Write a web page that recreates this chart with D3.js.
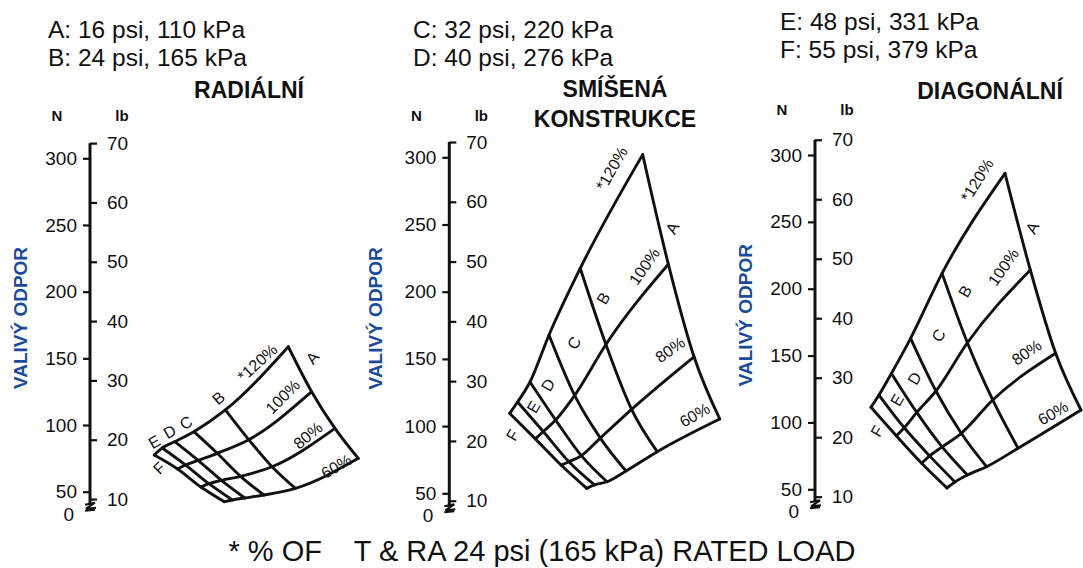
<!DOCTYPE html>
<html>
<head>
<meta charset="utf-8">
<script src="https://cdn.jsdelivr.net/npm/d3@7"></script>
<style>
  body { margin: 0; background: #fff; }
  svg { display: block; }
  text { font-family: "Liberation Sans", Arial, sans-serif; fill: #111; }
</style>
</head>
<body>
<svg id="chart" width="1083" height="568"></svg>
<script>
// Inflation pressure groups (carpet lines A–F)
const pressureLabels = ["A", "B", "C", "D", "E", "F"];
const pressurePsi = [16, 24, 32, 40, 48, 55];
const pressureKPa = [110, 165, 220, 276, 331, 379];

// Load as % of the T & RA rated load (carpet lines across)
const loadPct = [120, 100, 80, 60];

// Rolling resistance in newtons; rows A..F, columns 120/100/80/60 %
const radialN = [
  [158.7, 125.0, 97.5, 75.0],
  [111.3, 89.0, 68.7, 52.5],
  [95.0, 78.8, 61.5, 47.5],
  [87.5, 73.5, 58.5, 45.3],
  [82.8, 70.0, 56.0, 43.8],
  [77.5, 67.0, 53.5, 42.5]
];
const mixedN = [
  [302.0, 220.4, 151.6, 105.3],
  [217.4, 160.7, 112.5, 81.0],
  [167.8, 122.8, 91.1, 66.6],
  [132.8, 104.5, 78.0, 58.6],
  [117.9, 96.0, 73.5, 56.2],
  [109.5, 90.5, 71.0, 53.7]
];
const biasN = [
  [286.3, 214.0, 151.7, 109.3],
  [211.5, 159.6, 116.8, 80.7],
  [162.9, 123.5, 91.9, 66.9],
  [136.7, 107.5, 81.7, 60.7],
  [120.5, 96.0, 75.0, 55.5],
  [111.3, 90.0, 69.5, 51.0]
];

const panelTitles = [["RADIÁLNÍ"], ["SMÍŠENÁ", "KONSTRUKCE"], ["DIAGONÁLNÍ"]];
const nTicks = [50, 100, 150, 200, 250, 300];
const lbTicks = [10, 20, 30, 40, 50, 60, 70];
const yTitle = "VALIVÝ ODPOR";
const footnote = "* % OF    T & RA 24 psi (165 kPa) RATED LOAD";
const N_PER_LB = 4.44822;

// ---- layout -------------------------------------------------------------
const svg = d3.select("#chart");

const panels = [
  { data: radialN, axisX: 90,    yTop: 158.3, yBot: 491.7, cx: 288.3, loadW: 70, pressW: 134,
    legendY: [38, 65.5], legendX: 48, titleY: [98], titleX: 249, unitY: 121, ytX: 27,
    labels: [
      { t: "A", p: 0, l: 0, dx: 24, dy: 11, r: -50 },
      { t: "*120%", p: 0, l: 0, dx: -31, dy: 16, r: -42 },
      { t: "100%", p: 0, l: 1, dx: -29, dy: 5, r: -45 },
      { t: "80%", p: 0, l: 2, dx: -27, dy: 7, r: -40 },
      { t: "60%", p: 0, l: 3, dx: -22, dy: 8, r: -30 },
      { t: "B", p: 1, l: 0, dx: -7, dy: -12, r: -40 },
      { t: "C", p: 2, l: 0, dx: -8, dy: -9, r: -30 },
      { t: "D", p: 3, l: 0, dx: -5, dy: -10, r: -30 },
      { t: "E", p: 4, l: 0, dx: -8, dy: -6, r: -30 },
      { t: "F", p: 5, l: 0, dx: 5, dy: 13, r: -45 }
    ] },
  { data: mixedN, axisX: 449.3, yTop: 157.3, yBot: 493.3, cx: 642.7, loadW: 77, pressW: 133,
    legendY: [38, 65.5], legendX: 413, titleY: [97, 127], titleX: 615, unitY: 121, ytX: 382,
    labels: [
      { t: "A", p: 0, l: 1, dx: 4, dy: -36, r: -62 },
      { t: "*120%", p: 0, l: 0, dx: -31, dy: 14, r: -60 },
      { t: "100%", p: 0, l: 1, dx: -24, dy: 2, r: -55 },
      { t: "80%", p: 0, l: 2, dx: -24, dy: -7, r: -35 },
      { t: "60%", p: 0, l: 3, dx: -25, dy: -4, r: -30 },
      { t: "B", p: 1, l: 0, dx: 23, dy: 30, r: -60 },
      { t: "C", p: 2, l: 0, dx: 25, dy: 8, r: -60 },
      { t: "D", p: 3, l: 0, dx: 18, dy: 3, r: -60 },
      { t: "E", p: 4, l: 0, dx: 16, dy: 5, r: -60 },
      { t: "F", p: 5, l: 0, dx: 3, dy: 22, r: -60 }
    ] },
  { data: biasN, axisX: 815, yTop: 155, yBot: 489.3, cx: 1005, loadW: 76, pressW: 134,
    legendY: [30, 57.5], legendX: 780, titleY: [99], titleX: 990, unitY: 115, ytX: 752,
    labels: [
      { t: "A", p: 0, l: 1, dx: 2, dy: -42, r: -62 },
      { t: "*120%", p: 0, l: 0, dx: -28, dy: 7, r: -58 },
      { t: "100%", p: 0, l: 1, dx: -27, dy: -3, r: -55 },
      { t: "80%", p: 0, l: 2, dx: -29, dy: -1, r: -35 },
      { t: "60%", p: 0, l: 3, dx: -28, dy: 3, r: -30 },
      { t: "B", p: 1, l: 0, dx: 23, dy: 18, r: -60 },
      { t: "C", p: 2, l: 0, dx: 28, dy: -3, r: -60 },
      { t: "D", p: 3, l: 0, dx: 23, dy: 5, r: -60 },
      { t: "E", p: 4, l: 0, dx: 18, dy: 5, r: -60 },
      { t: "F", p: 5, l: 0, dx: 6, dy: 24, r: -60 }
    ] }
];

const legendPairs = [[0, 1], [2, 3], [4, 5]];
const legendText = i => `${pressureLabels[i]}: ${pressurePsi[i]} psi, ${pressureKPa[i]} kPa`;

// smooth carpet lines without overshoot; points are fed left to right
const curve = d3.line().curve(d3.curveMonotoneX);
const byX = pts => pts.slice().sort((a, b) => a[0] - b[0]);

panels.forEach((P, pi) => {
  const g = svg.append("g");

  // value scale (N) and the matching pound-force scale
  const yN = d3.scaleLinear().domain([50, 300]).range([P.yBot, P.yTop]);
  const yLb = d3.scaleLinear().domain([0, 70]).range([yN(0), yN(70 * N_PER_LB)]);

  // carpet offsets: lighter load shifts a point right, higher pressure (as 1/p) shifts it left
  const xLoad = d3.scaleLinear().domain([120, 60]).range([0, P.loadW]);
  const xPress = d3.scaleLinear().domain([1 / pressureKPa[0], 1 / pressureKPa[5]]).range([0, -P.pressW]);
  const pt = (i, j) => [P.cx + xPress(1 / pressureKPa[i]) + xLoad(loadPct[j]), yN(P.data[i][j])];

  // legend of pressure groups
  legendPairs[pi].forEach((idx, k) => {
    g.append("text").attr("x", P.legendX).attr("y", P.legendY[k])
      .style("font-size", "24.5px").text(legendText(idx));
  });

  // panel title
  panelTitles[pi].forEach((t, k) => {
    g.append("text").attr("x", P.titleX).attr("y", P.titleY[k]).attr("text-anchor", "middle")
      .style("font-size", "23px").style("font-weight", "bold").text(t);
  });

  // unit headers
  g.append("text").attr("x", P.axisX - 33).attr("y", P.unitY).attr("text-anchor", "middle")
    .style("font-size", "15px").style("font-weight", "bold").text("N");
  g.append("text").attr("x", P.axisX + 32).attr("y", P.unitY).attr("text-anchor", "middle")
    .style("font-size", "15px").style("font-weight", "bold").text("lb");

  // y title
  g.append("text")
    .attr("transform", `translate(${P.ytX},${(P.yTop + P.yBot) / 2 - 7}) rotate(-90)`)
    .attr("text-anchor", "middle").style("font-size", "19px").style("font-weight", "bold")
    .style("fill", "#1b4c9a").text(yTitle);

  // dual axis: N ticks on the left, lb ticks on the right
  const axN = g.append("g").attr("transform", `translate(${P.axisX},0)`)
    .call(d3.axisLeft(yN).tickValues(nTicks).tickSize(7).tickPadding(6));
  const axLb = g.append("g").attr("transform", `translate(${P.axisX},0)`)
    .call(d3.axisRight(yLb).tickValues(lbTicks).tickSize(7).tickPadding(10));
  [axN, axLb].forEach(a => {
    a.select(".domain").remove();
    a.selectAll("line").attr("stroke", "#111").attr("stroke-width", 2.2);
    a.selectAll("text").style("font-size", "19px").style("font-family", '"Liberation Sans", Arial, sans-serif').attr("fill", "#111");
  });

  // axis spine with a break above zero
  const yBreak = yN(50) + 13;
  g.append("line").attr("x1", P.axisX).attr("x2", P.axisX)
    .attr("y1", yLb(70)).attr("y2", yBreak)
    .attr("stroke", "#111").attr("stroke-width", 3);
  g.append("path")
    .attr("d", `M${P.axisX - 5},${yBreak} L${P.axisX + 5},${yBreak - 2} L${P.axisX - 4},${yBreak + 4} L${P.axisX + 6},${yBreak + 3}
                M${P.axisX - 5},${yBreak + 6} L${P.axisX + 5},${yBreak + 5}`)
    .attr("fill", "none").attr("stroke", "#111").attr("stroke-width", 2);
  g.append("text").attr("x", P.axisX - 16).attr("y", yBreak + 16).attr("text-anchor", "end")
    .style("font-size", "19px").text("0");

  // carpet: constant-pressure lines and constant-load lines
  const carpet = g.append("g").attr("fill", "none").attr("stroke", "#111")
    .attr("stroke-width", 2.9).attr("stroke-linejoin", "round").attr("stroke-linecap", "round");
  pressureLabels.forEach((_, i) => {
    carpet.append("path").attr("d", curve(byX(loadPct.map((_, j) => pt(i, j)))));
  });
  loadPct.forEach((_, j) => {
    carpet.append("path").attr("d", curve(byX(pressureLabels.map((_, i) => pt(i, j)))));
  });

  // carpet labels
  P.labels.forEach(L => {
    const [x, y] = pt(L.p, L.l);
    g.append("text")
      .attr("transform", `translate(${x + L.dx},${y + L.dy}) rotate(${L.r})`)
      .attr("text-anchor", "middle").attr("dy", "0.35em")
      .style("font-size", "16px").text(L.t);
  });
});

// footnote
svg.append("text").attr("x", 542).attr("y", 561).attr("text-anchor", "middle")
  .style("font-size", "29px").style("white-space", "pre").text(footnote);
</script>
</body>
</html>
